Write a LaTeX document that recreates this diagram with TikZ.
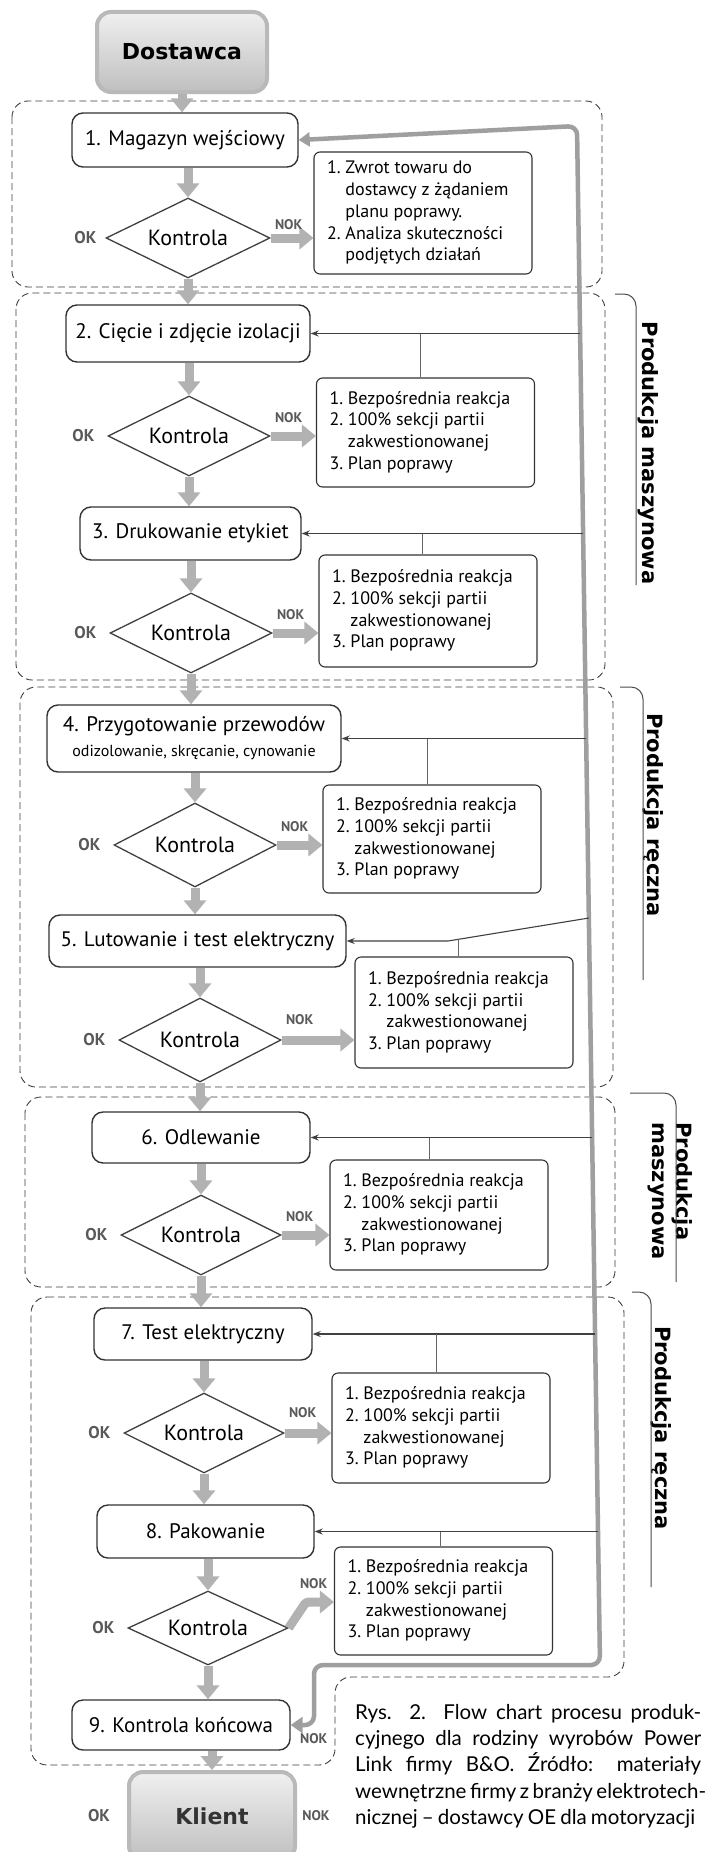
\documentclass[tikz,border=0pt]{standalone}
\usepackage{fontspec}
\setmainfont{PT Sans}
\newfontfamily\capfont[Ligatures=TeX]{Lato}
\newfontfamily\boldfont{DejaVu Sans}
\usetikzlibrary{shapes.geometric,arrows.meta,calc}
\newcommand\actstd{1. & Bezpośrednia reakcja\\ 2. & 100\% sekcji partii\\ & zakwestionowanej\\ 3. & Plan poprawy}
\newcommand\actbox[1]{\makebox[192pt][l]{\begin{tabular}{@{}l@{\ }l@{}}#1\end{tabular}}}
\begin{document}
\begin{tikzpicture}[x=1pt,y=-1pt,
  region/.style={draw=black!75, line width=0.9pt, dash pattern=on 7pt off 4pt, rounded corners=16pt},
  proc/.style={draw=black!80, line width=1.4pt, rounded corners=11pt, fill=white, font=\fontsize{21}{25}\selectfont, inner sep=0pt, align=center},
  dec/.style={diamond, aspect=2, draw=black!75, line width=1.3pt, fill=white, inner sep=0pt, font=\fontsize{22}{26}\selectfont},
  act/.style={draw=black!80, line width=1.1pt, rounded corners=6pt, fill=white, font=\fontsize{18}{21.7}\selectfont, inner sep=0pt, minimum width=218pt},
  flow/.style={draw=gray!60, line width=9pt, -{Triangle[width=22pt,length=14pt]}},
  fb/.style={draw=black!75, line width=1.1pt, -{Stealth[length=8pt,width=6pt]}},
  stub/.style={draw=black!60, line width=0.9pt},
  rail/.style={draw=gray!75, line width=4.5pt, rounded corners=9pt},
  ok/.style={text=black!65, font=\bfseries\fontsize{17}{17}\selectfont, inner sep=0pt},
  nok/.style={text=black!65, font=\bfseries\fontsize{14}{14}\selectfont, inner sep=0pt},
  side/.style={rotate=-90, font=\boldfont\bfseries\fontsize{21}{24}\selectfont, inner sep=0pt},
  bracket/.style={draw=black!70, line width=1pt, rounded corners=12pt},
  cloud/.style={rounded corners=14pt, draw=gray!55, line width=4pt, top color=gray!12, bottom color=gray!50, font=\boldfont\bfseries\fontsize{22}{26}\selectfont, inner sep=0pt},
  capt/.style={font=\capfont\fontsize{20.5}{26.3}\selectfont, align=left, inner sep=0pt}
]
\useasboundingbox (0,0) rectangle (704,1852);
\fill[white] (0,0) rectangle (704,1852);

% regions
\draw[region] (12,101) rectangle (602,287);
\draw[region] (16,293) rectangle (605,680);
\draw[region] (20,687) rectangle (613,1087);
\draw[region] (25,1097) rectangle (615,1287);
\draw[region] (31,1297) -- (624,1297) -- (624,1677) -- (335,1677) -- (335,1765) -- (31,1765) -- cycle;

% clouds
\node[cloud, minimum width=170pt, minimum height=80pt] (dost) at (182,52) {Dostawca};
\node[cloud, minimum width=166pt, minimum height=88pt, text=black!80] (kl) at (212,1816) {Klient};

% process boxes
\node[proc, minimum width=226pt, minimum height=54pt] (b1) at (185,140) {1. Magazyn wejściowy};
\node[proc, minimum width=244pt, minimum height=57pt] (b2) at (188,333.5) {2. Cięcie i zdjęcie izolacji};
\node[proc, minimum width=221pt, minimum height=53pt] (b3) at (190.5,533.5) {3. Drukowanie etykiet};
\node[proc, minimum width=294pt, minimum height=67pt] (b4) at (194,738.5) {4. Przygotowanie przewodów\\{\fontsize{16}{22}\selectfont odizolowanie, skręcanie, cynowanie}};
\node[proc, minimum width=297pt, minimum height=52pt] (b5) at (197.5,941) {5. Lutowanie i test elektryczny};
\node[proc, minimum width=218pt, minimum height=51pt] (b6) at (201,1137.5) {6. Odlewanie};
\node[proc, minimum width=218pt, minimum height=52pt] (b7) at (203,1334) {7. Test elektryczny};
\node[proc, minimum width=217pt, minimum height=53pt] (b8) at (205.5,1531.5) {8. Pakowanie};
\node[proc, minimum width=218pt, minimum height=50pt] (b9) at (181,1725) {9. Kontrola końcowa};

% decisions
\node[dec, minimum width=164pt, minimum height=80pt] (d1) at (188,238) {Kontrola};
\node[dec, minimum width=162pt, minimum height=80pt] (d2) at (189,436) {Kontrola};
\node[dec, minimum width=162pt, minimum height=80pt] (d3) at (191,633) {Kontrola};
\node[dec, minimum width=162pt, minimum height=84pt] (d4) at (195,845) {Kontrola};
\node[dec, minimum width=162pt, minimum height=84pt] (d5) at (200,1040) {Kontrola};
\node[dec, minimum width=160pt, minimum height=80pt] (d6) at (201,1235) {Kontrola};
\node[dec, minimum width=160pt, minimum height=80pt] (d7) at (204,1433) {Kontrola};
\node[dec, minimum width=160pt, minimum height=74pt] (d8) at (208,1628) {Kontrola};

% action boxes
\node[act, minimum height=122pt] (a1) at (423,213) {\actbox{1. & Zwrot towaru do\\ & dostawcy z żądaniem\\ & planu poprawy.\\ 2. & Analiza skuteczności\\ & podjętych działań}};
\node[act, minimum height=109pt] (a2) at (425.5,432.5) {\actbox{\actstd}};
\node[act, minimum height=112pt] (a3) at (428,611) {\actbox{\actstd}};
\node[act, minimum height=108pt] (a4) at (432,839) {\actbox{\actstd}};
\node[act, minimum height=111pt] (a5) at (464,1012.5) {\actbox{\actstd}};
\node[act, minimum height=110pt] (a6) at (439,1215) {\actbox{\actstd}};
\node[act, minimum height=110pt] (a7) at (441,1428) {\actbox{\actstd}};
\node[act, minimum height=108pt] (a8) at (443.5,1601) {\actbox{\actstd}};

% main flow arrows
\draw[flow] (dost.south) -- (dost.south |- b1.north);
\draw[flow] (d1.north |- b1.south) -- (d1.north);
\draw[flow] (d1.south) -- (d1.south |- b2.north);
\draw[flow] (d2.north |- b2.south) -- (d2.north);
\draw[flow] (d2.south) -- (d2.south |- b3.north);
\draw[flow] (d3.north |- b3.south) -- (d3.north);
\draw[flow] (d3.south) -- (d3.south |- b4.north);
\draw[flow] (d4.north |- b4.south) -- (d4.north);
\draw[flow] (d4.south) -- (d4.south |- b5.north);
\draw[flow] (d5.north |- b5.south) -- (d5.north);
\draw[flow] (d5.south) -- (d5.south |- b6.north);
\draw[flow] (d6.north |- b6.south) -- (d6.north);
\draw[flow] (d6.south) -- (d6.south |- b7.north);
\draw[flow] (d7.north |- b7.south) -- (d7.north);
\draw[flow] (d7.south) -- (d7.south |- b8.north);
\draw[flow] (d8.north |- b8.south) -- (d8.north);
\draw[flow] (d8.south) -- (d8.south |- b9.north);
\draw[flow] (kl.north |- b9.south) -- (kl.north);

% NOK arrows
\draw[flow] (d1.east) -- (d1.east -| a1.west);
\draw[flow] (d2.east) -- (d2.east -| a2.west);
\draw[flow] (d3.east) -- (d3.east -| a3.west);
\draw[flow] (d4.east) -- (d4.east -| a4.west);
\draw[flow] (d5.east) -- (d5.east -| a5.west);
\draw[flow] (d6.east) -- (d6.east -| a6.west);
\draw[flow] (d7.east) -- (d7.east -| a7.west);
\coordinate (n8) at (306,1602);
\draw[flow, rounded corners=3pt] (d8.east) -- (n8) -- (n8 -| a8.west);

% return rail
\coordinate (rt) at (577,126);
\coordinate (rb) at (600,1665);
\coordinate (rc) at (314,1665);
\draw[rail, {Triangle[width=14pt,length=11pt]}-{Triangle[width=16pt,length=12pt]}] (b1.east) -- (rt) -- (rb) -- (rc) -- (rc |- b9.east) -- (b9.east);

% feedback lines
\coordinate (p2) at (580.1,333.5);
\coordinate (p3) at (583.1,533.5);
\coordinate (p4) at (586.2,738.5);
\coordinate (p5) at (588.9,918);
\coordinate (k5) at (448,941);
\coordinate (p6) at (592.1,1137.5);
\coordinate (p7) at (595.1,1334);
\coordinate (p8) at (598.0,1531.5);
\draw[fb] (p2) -- (b2.east);
\draw[fb] (p3) -- (b3.east);
\draw[fb] (p4) -- (b4.east);
\draw[fb] (p5) -- (k5) -- (b5.east);
\draw[fb] (p6) -- (b6.east);
\draw[fb] (p7) -- (b7.east);
\draw[fb] (p8) -- (b8.east);

% stubs
\coordinate (s2) at (420,333.5);
\coordinate (s3) at (422,533.5);
\coordinate (s4) at (427,738.5);
\coordinate (s5) at (458,939.4);
\coordinate (s6) at (429,1137.5);
\coordinate (s7) at (436,1334);
\coordinate (s8) at (440,1531.5);
\draw[stub] (s2) -- (s2 |- a2.north);
\draw[stub] (s3) -- (s3 |- a3.north);
\draw[stub] (s4) -- (s4 |- a4.north);
\draw[stub] (s5) -- (s5 |- a5.north);
\draw[stub] (s6) -- (s6 |- a6.north);
\draw[stub] (s7) -- (s7 |- a7.north);
\draw[stub] (s8) -- (s8 |- a8.north);

% OK / NOK labels
\node[ok] (ok1) at ([xshift=-20pt]d1.west) {OK};
\node[ok] (ok2) at ([xshift=-24pt]d2.west) {OK};
\node[ok] (ok3) at ([xshift=-24pt]d3.west) {OK};
\node[ok] (ok4) at ([xshift=-24pt]d4.west) {OK};
\node[ok] (ok5) at ([xshift=-24pt]d5.west) {OK};
\node[ok] (ok6) at ([xshift=-24pt]d6.west) {OK};
\node[ok] (ok7) at ([xshift=-24pt]d7.west) {OK};
\node[ok] (ok8) at ([xshift=-24pt]d8.west) {OK};
\node[nok] (nok1) at ([xshift=18pt,yshift=13pt]d1.east) {NOK};
\node[nok] (nok2) at ([xshift=18pt,yshift=18pt]d2.east) {NOK};
\node[nok] (nok3) at ([xshift=18pt,yshift=18pt]d3.east) {NOK};
\node[nok] (nok4) at ([xshift=18pt,yshift=18pt]d4.east) {NOK};
\node[nok] (nok5) at ([xshift=18pt,yshift=20pt]d5.east) {NOK};
\node[nok] (nok6) at ([xshift=18pt,yshift=18pt]d6.east) {NOK};
\node[nok] (nok7) at ([xshift=18pt,yshift=20pt]d7.east) {NOK};
\node[nok] (nok8) at ([xshift=25pt,yshift=44pt]d8.east) {NOK};
\node[nok] (nok9) at ([xshift=23pt,yshift=-14pt]b9.east) {NOK};
\node[ok] (okk) at ([xshift=-28pt]kl.west) {OK};
\node[nok] (nokk) at ([xshift=19pt]kl.east) {NOK};

% side labels
\node[side] (sa) at (648,453) {Produkcja maszynowa};
\draw[bracket] (615,294) -- (636,294) -- (636,585);
\node[side] (sb) at (653,815) {Produkcja ręczna};
\draw[bracket] (620,687) -- (643,687) -- (643,980);
\node[side, align=left] (sc) at (670,1191) {Produkcja\\maszynowa};
\draw[bracket] (630,1093) -- (676,1093) -- (676,1282);
\node[side] (sd) at (661,1428) {Produkcja ręczna};
\draw[bracket] (632,1292) -- (651,1292) -- (651,1587);

% caption
\node[capt, anchor=north west] (cap) at (355,1704) {\makebox[346pt][s]{Rys. 2. Flow chart procesu produk-}\\
\makebox[346pt][s]{cyjnego dla rodziny wyrobów Power}\\
\makebox[346pt][s]{Link firmy B\&O. Źródło: materiały}\\
\makebox[346pt][s]{wewnętrzne firmy z branży elektrotech-}\\
\makebox[340pt][s]{nicznej – dostawcy OE dla motoryzacji}};
\end{tikzpicture}
\end{document}
